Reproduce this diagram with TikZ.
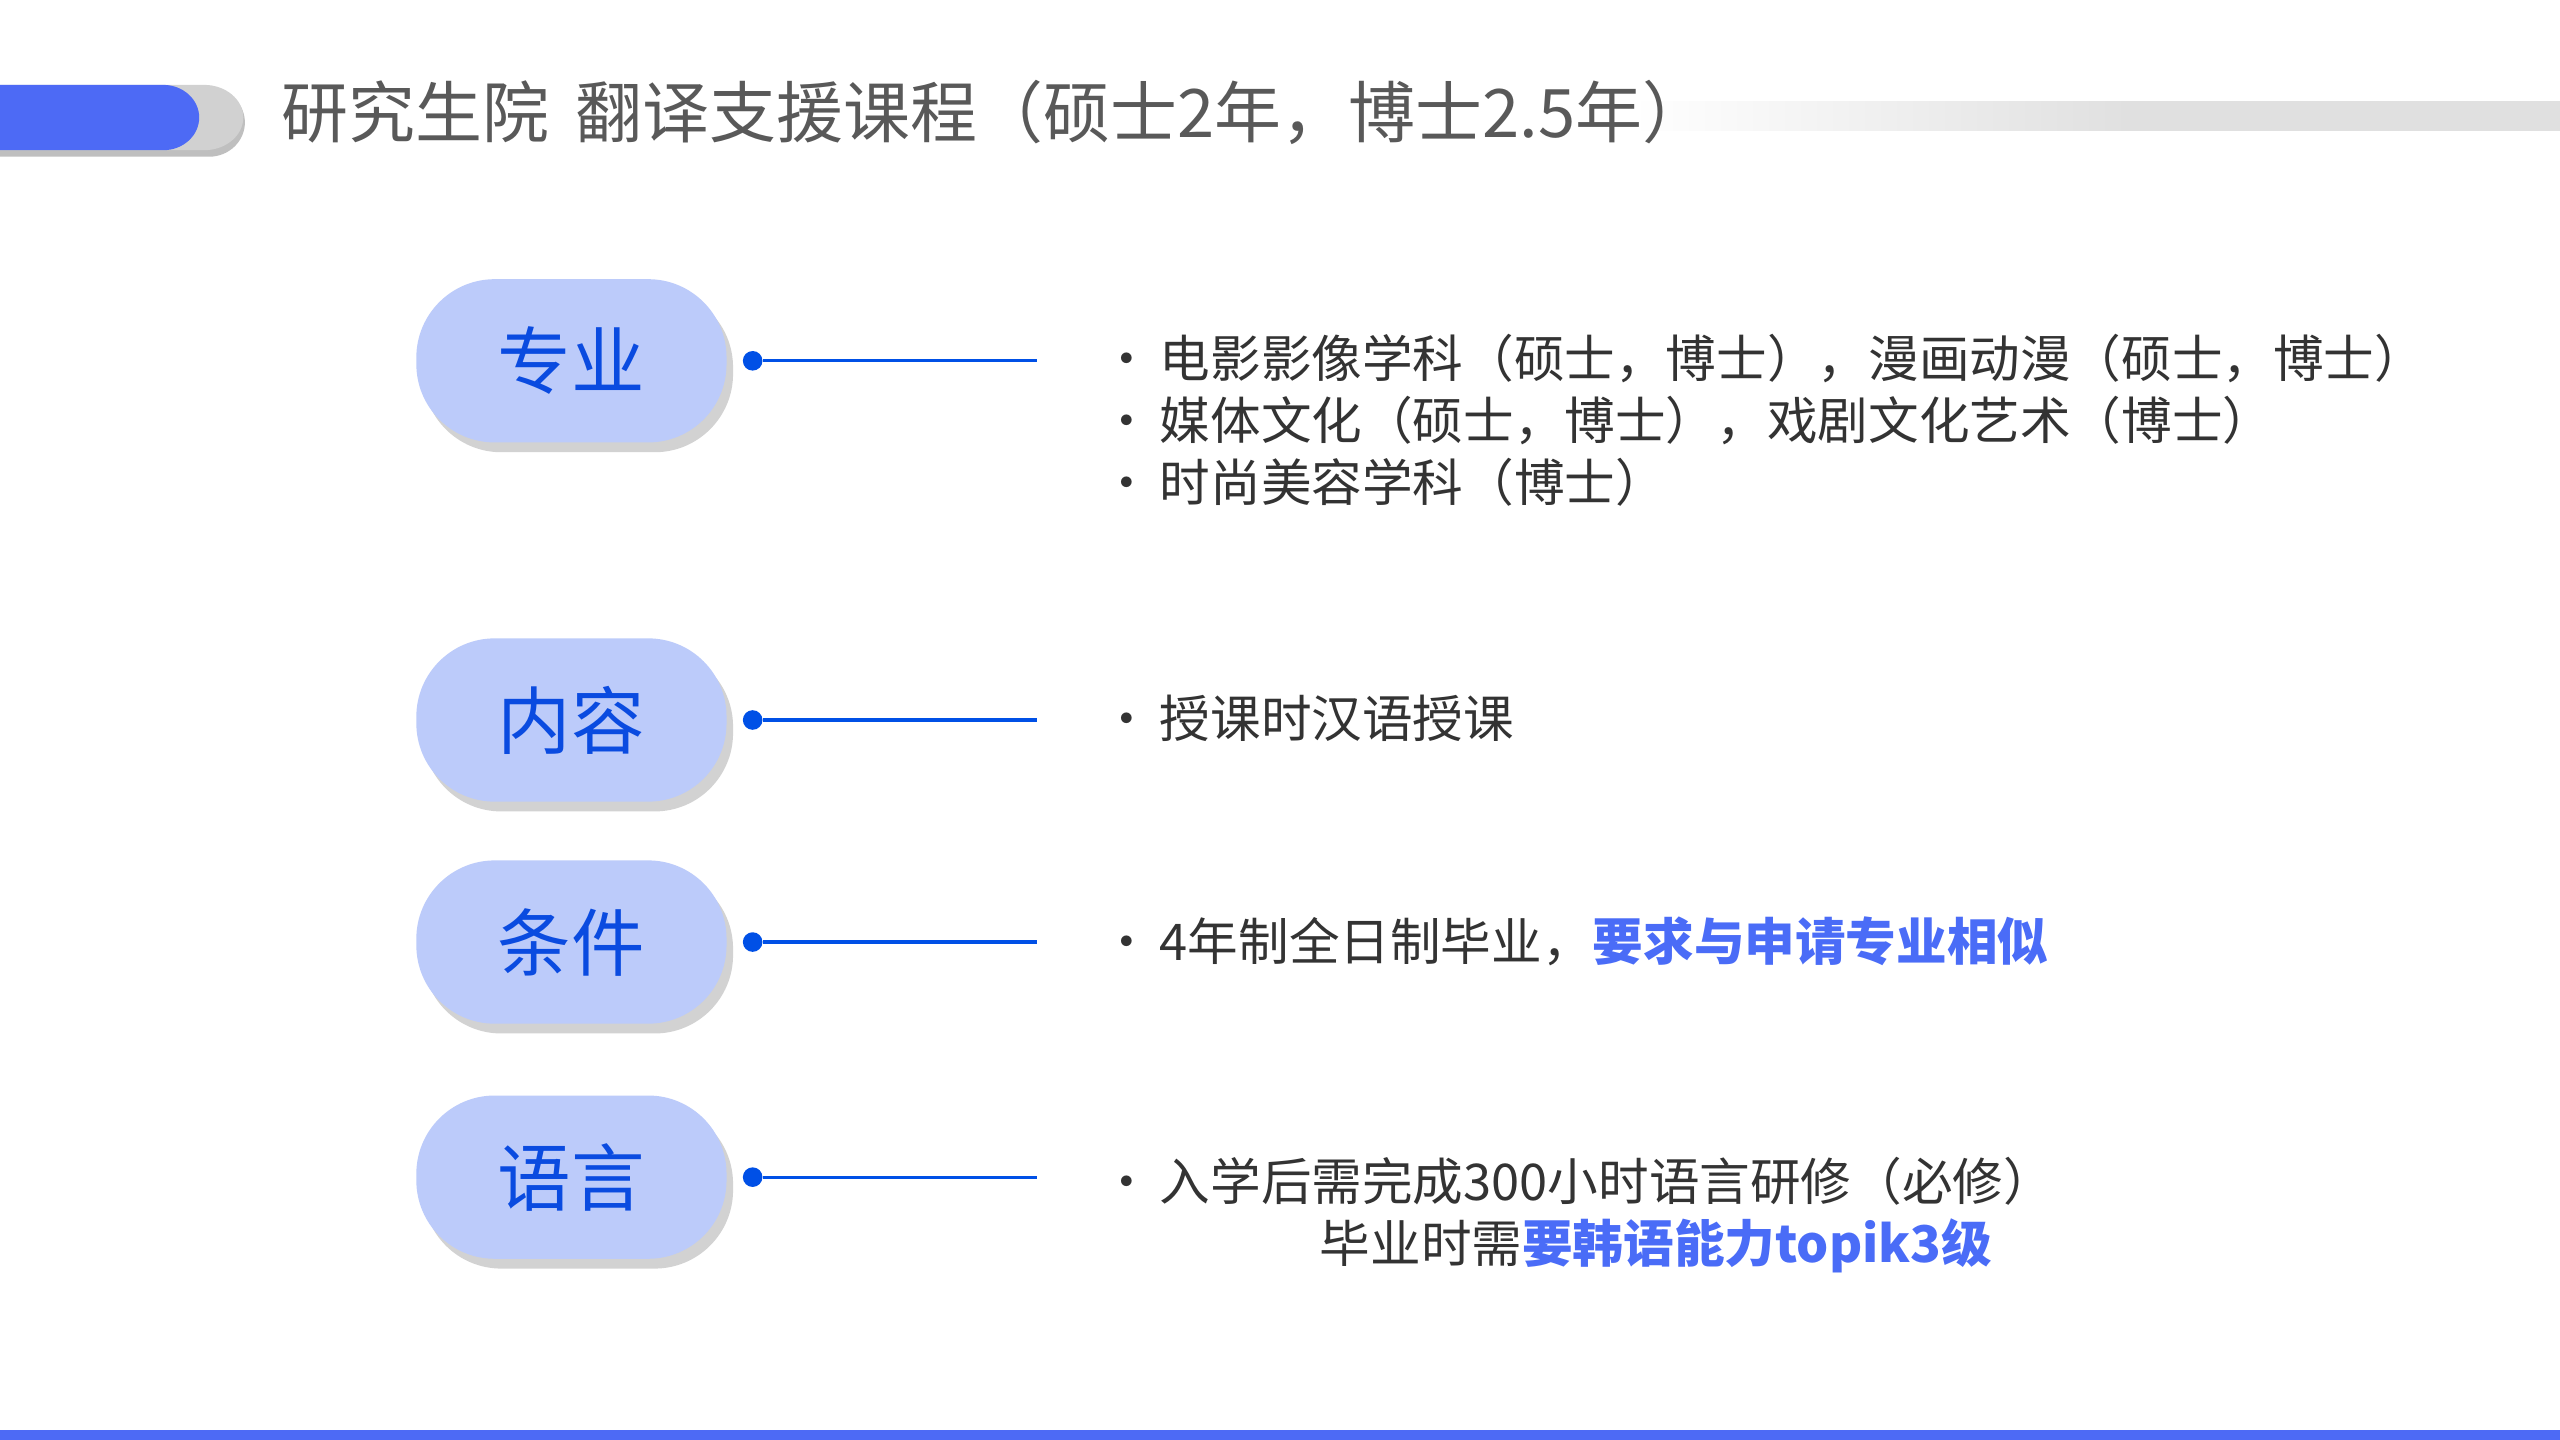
\documentclass[tikz,border=0pt]{standalone}
\usepackage{fontspec}
\setmainfont{Noto Sans CJK SC}
\usetikzlibrary{shadows}
\definecolor{barblue}{HTML}{4D6AF5}
\definecolor{pillfill}{HTML}{BCCBFA}
\definecolor{deepblue}{HTML}{0A4BE0}
\definecolor{lineblue}{HTML}{0050E6}
\definecolor{hiblue}{HTML}{4A6CF7}
\definecolor{titlegray}{HTML}{595959}
\tikzset{
  pill/.style={fill=pillfill, rounded corners=24pt, minimum width=95pt, minimum height=50pt,
    text=deepblue, font=\fontsize{22.5}{25}\selectfont, drop shadow={shadow xshift=2pt,shadow yshift=-3pt,opacity=0.35}},
  body/.style={anchor=base west, font=\fontsize{15.5}{18}\selectfont, text=black!80, inner sep=0},
  conn/.style={draw=lineblue, line width=1pt},
  dotc/.style={circle, fill=lineblue, inner sep=0, minimum size=6pt}
}
\newcommand{\hlt}[1]{{\color{hiblue}\bfseries #1}}
\newcommand{\bul}{\makebox[18pt][l]{•}}
\begin{document}
\begin{tikzpicture}[x=0.5pt,y=-0.5pt]
\useasboundingbox (0,0) rectangle (1568,882);
\fill[white] (0,0) rectangle (1568,882);
% header gray bar
\shade[left color=white, right color=black!12] (1000,62) rectangle (1300,80);
\fill[black!12] (1300,62) rectangle (1568,80);
% header pill
\fill[black!25] (0,54) -- (128,54) arc[start angle=90,end angle=-90,x radius=22,y radius=-21] -- (0,96) -- cycle;
\fill[black!18] (0,52) -- (125,52) arc[start angle=90,end angle=-90,x radius=24,y radius=-20] -- (0,92) -- cycle;
\fill[barblue] (0,52) -- (100,52) arc[start angle=90,end angle=-90,x radius=22,y radius=-20] -- (0,92) -- cycle;
\node[anchor=base west, text=titlegray, font=\fontsize{20.5}{22}\selectfont, inner sep=0] (title) at (172,84) {研究生院\hspace{8pt}翻译支援课程（硕士2年，博士2.5年）};
% bottom line
\fill[barblue] (0,876) rectangle (1568,882);
% rows
\foreach \n/\lab/\y in {a/专业/221, b/内容/441, c/条件/577, d/语言/721}{
  \node[pill] (p\n) at (350,\y) {\lab};
  \node[dotc] (d\n) at (461,\y) {};
  \coordinate (e\n) at (635,\y);
  \draw[conn] (d\n) -- (e\n);
}
\node[body] (t1) at (674,231) {\bul 电影影像学科（硕士，博士），漫画动漫（硕士，博士）};
\node[body] (t2) at (674,269) {\bul 媒体文化（硕士，博士），戏剧文化艺术（博士）};
\node[body] (t3) at (674,307) {\bul 时尚美容学科（博士）};
\node[body] (t4) at (674,452) {\bul 授课时汉语授课};
\node[body] (t5) at (674,588) {\bul 4年制全日制毕业，\hlt{要求与申请专业相似}};
\node[body] (t6) at (674,735) {\bul 入学后需完成300小时语言研修（必修）};
\node[body] (t7) at (808,773) {毕业时需\hlt{要韩语能力topik3级}};
\end{tikzpicture}
\end{document}
